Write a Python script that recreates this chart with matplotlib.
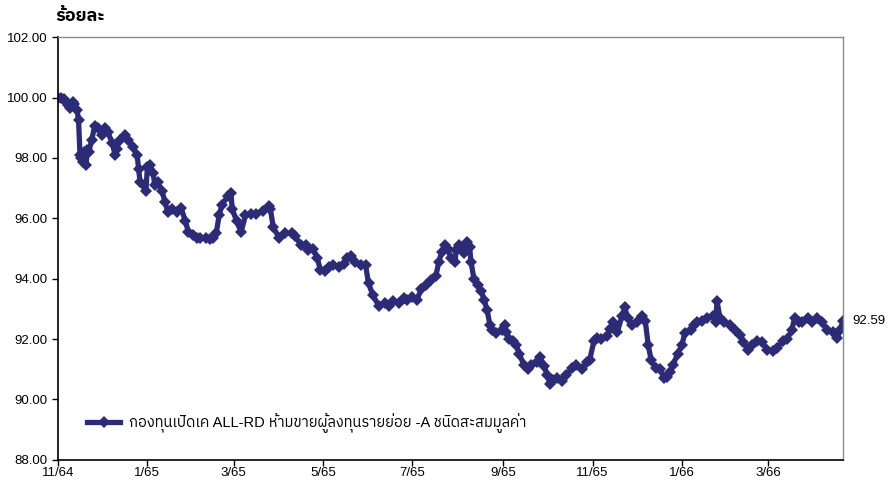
import matplotlib
matplotlib.use("Agg")
import datetime as dt
import matplotlib.pyplot as plt
import pandas as pd

# NAV (percent of initial), days counted from 1 Nov 2021 (11/64)
start = dt.date(2021, 11, 1)
days = [0, 2, 4, 5, 7, 8, 10, 11, 13, 14, 15, 16, 17, 18, 19, 20, 21, 23, 25, 27,
        30, 32, 34, 37, 39, 40, 42, 46, 48, 51, 54, 55, 56, 60, 61, 63, 65, 66, 68, 71,
        73, 75, 78, 81, 84, 87, 89, 92, 95, 97, 101, 104, 106, 108, 110, 112, 116, 118, 119, 122,
        125, 128, 132, 135, 140, 144, 145, 147, 151, 155, 160, 162, 166, 169, 171, 174, 177, 179, 182, 185,
        188, 192, 195, 197, 200, 203, 207, 210, 212, 215, 219, 223, 226, 229, 233, 236, 238, 242, 245, 248,
        251, 255, 258, 260, 262, 264, 266, 268, 271, 272, 274, 277, 279, 281, 282, 284, 287, 289, 291, 293,
        295, 296, 299, 303, 305, 306, 308, 311, 313, 315, 318, 321, 323, 327, 329, 332, 334, 336, 338, 341,
        344, 347, 351, 354, 358, 361, 363, 366, 368, 371, 375, 377, 379, 382, 385, 387, 389, 392, 395, 399,
        401, 403, 405, 408, 411, 414, 416, 418, 420, 423, 426, 428, 432, 434, 436, 440, 443, 447, 449, 450,
        452, 455, 459, 462, 466, 468, 471, 474, 477, 481, 484, 488, 491, 495, 498, 501, 503, 506, 508, 512,
        515, 518, 522, 525, 529, 532, 534, 536]
nav = [100.00, 99.98, 99.95, 99.90, 99.75, 99.65, 99.85, 99.80, 99.60, 99.25, 98.10, 98.00, 97.85, 98.20, 97.75, 98.25, 98.20, 98.60, 99.05, 99.00,
       98.75, 99.00, 98.85, 98.50, 98.10, 98.30, 98.60, 98.75, 98.60, 98.35, 98.10, 97.65, 97.20, 96.90, 97.70, 97.75, 97.50, 97.10, 97.20, 96.90,
       96.55, 96.20, 96.30, 96.20, 96.35, 95.90, 95.55, 95.45, 95.35, 95.35, 95.35, 95.30, 95.35, 95.50, 96.10, 96.45, 96.75, 96.85, 96.30, 95.90,
       95.55, 96.10, 96.15, 96.15, 96.25, 96.40, 96.30, 95.70, 95.35, 95.50, 95.50, 95.40, 95.10, 95.10, 94.95, 95.00, 94.70, 94.30, 94.25, 94.40,
       94.45, 94.40, 94.50, 94.70, 94.75, 94.55, 94.45, 94.45, 93.85, 93.45, 93.10, 93.20, 93.10, 93.25, 93.20, 93.35, 93.30, 93.40, 93.30, 93.65,
       93.80, 93.95, 94.10, 94.55, 94.90, 95.10, 95.00, 94.70, 94.55, 94.95, 95.10, 94.85, 95.20, 95.05, 94.55, 94.00, 93.80, 93.60, 93.30, 92.95,
       92.45, 92.30, 92.20, 92.30, 92.45, 92.25, 92.00, 91.95, 91.80, 91.50, 91.15, 91.00, 91.15, 91.25, 91.40, 91.10, 90.80, 90.50, 90.65, 90.70,
       90.60, 90.80, 91.05, 91.15, 91.00, 91.25, 91.30, 91.95, 92.05, 92.00, 92.10, 92.35, 92.55, 92.25, 92.75, 93.05, 92.70, 92.45, 92.55, 92.75,
       92.60, 91.80, 91.30, 91.05, 91.00, 90.70, 90.75, 90.90, 91.15, 91.50, 91.80, 92.20, 92.30, 92.45, 92.55, 92.60, 92.70, 92.75, 92.55, 93.25,
       92.70, 92.55, 92.45, 92.30, 92.15, 91.90, 91.65, 91.80, 91.95, 91.90, 91.65, 91.60, 91.70, 91.95, 92.00, 92.30, 92.70, 92.55, 92.55, 92.70,
       92.55, 92.70, 92.55, 92.30, 92.25, 92.05, 92.30, 92.59]
series_name = "กองทุนเปิดเค ALL-RD ห้ามขายผู้ลงทุนรายย่อย -A ชนิดสะสมมูลค่า"
y_title = "ร้อยละ"
tick_months = ["2021-11-01", "2022-01-01", "2022-03-01", "2022-05-01", "2022-07-01",
               "2022-09-01", "2022-11-01", "2023-01-01", "2023-03-01"]
tick_labels = ["11/64", "1/65", "3/65", "5/65", "7/65", "9/65", "11/65", "1/66", "3/66"]

plt.rcParams['font.family'] = ['Liberation Sans', 'IBM Plex Sans Thai', 'DejaVu Sans']

dates = [pd.Timestamp(start + dt.timedelta(days=d)) for d in days]
navy = '#2b2b78'

fig = plt.figure(figsize=(8.93, 4.83), dpi=100)
ax = fig.add_axes([0.065, 0.048, 0.879, 0.875])

ax.plot(dates, nav, color=navy, linewidth=3.8, marker='D', markersize=6,
        markeredgewidth=0, label=series_name)

ax.set_ylim(88, 102)
ax.set_yticks([88 + 2 * i for i in range(8)])
ax.yaxis.set_major_formatter(plt.FormatStrFormatter('%.2f'))
ax.set_xlim(dates[0], dates[-1])
ax.set_xticks(pd.to_datetime(tick_months))
ax.set_xticklabels(tick_labels)

for side in ['left', 'bottom']:
    ax.spines[side].set_color('black')
    ax.spines[side].set_linewidth(1.2)
for side in ['top', 'right']:
    ax.spines[side].set_color('#8c8c8c')
    ax.spines[side].set_linewidth(1.0)
ax.tick_params(axis='both', direction='out', length=4, width=1, labelsize=9.5, colors='black')
ax.tick_params(axis='x', pad=1.5)

# last value label
ax.annotate(f"{nav[-1]:.2f}", xy=(dates[-1], nav[-1]), xytext=(7, 0),
            textcoords='offset points', va='center', ha='left', fontsize=9.5,
            annotation_clip=False)

fig.text(0.062, 0.965, y_title, fontsize=13, fontweight='bold', ha='left', va='center')

ax.legend(loc='lower left', bbox_to_anchor=(0.02, 0.032), frameon=False, fontsize=10.5,
          handlelength=2.3, handletextpad=0.6)

fig.savefig("out.png", dpi=100)
